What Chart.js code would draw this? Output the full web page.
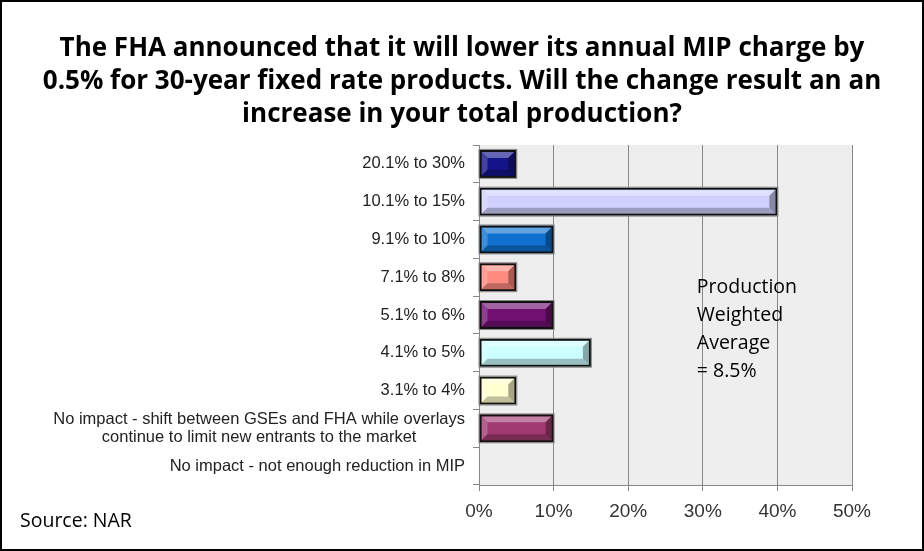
<!DOCTYPE html>
<html>
<head>
<meta charset="utf-8">
<script src="https://cdn.jsdelivr.net/npm/chart.js@4"></script>
<style>
  body { margin: 0; background: #fff; }
  #wrap { width: 924px; height: 551px; position: relative; }
</style>
</head>
<body>
<div id="wrap"><canvas id="chart" width="924" height="551"></canvas></div>
<script>
// DATA
const categories = [
    '20.1% to 30%',
    '10.1% to 15%',
    '9.1% to 10%',
    '7.1% to 8%',
    '5.1% to 6%',
    '4.1% to 5%',
    '3.1% to 4%',
    ['No impact - shift between GSEs and FHA while overlays', 'continue to limit new entrants to the market'],
    'No impact - not enough reduction in MIP'
];
const shares = [5, 40, 10, 5, 10, 15, 5, 10, 0];
const barColors = ['#141488', '#d0d0ff', '#1070d0', '#ff8a80', '#701070', '#ccffff', '#ffffd0', '#a03a70', '#999999'];
const xTicks = [0, 10, 20, 30, 40, 50];
const titleLines = [
    'The FHA announced that it will lower its annual MIP charge by',
    '0.5% for 30-year fixed rate products. Will the change result an an',
    'increase in your total production?'
];
const noteLines = ['Production', 'Weighted', 'Average', '= 8.5%'];
const sourceText = 'Source: NAR';

// HELPERS
function shade(hex, amt) {
    const n = parseInt(hex.slice(1), 16);
    let r = n >> 16, g = (n >> 8) & 255, b = n & 255;
    if (amt > 0) {
        r += (255 - r) * amt; g += (255 - g) * amt; b += (255 - b) * amt;
    } else {
        r *= 1 + amt; g *= 1 + amt; b *= 1 + amt;
    }
    return `rgb(${Math.round(r)},${Math.round(g)},${Math.round(b)})`;
}

// BACKGROUND + FRAME + TITLE
const backdrop = {
    id: 'backdrop',
    beforeDraw(chart) {
        const { ctx, chartArea: a } = chart;
        ctx.save();
        ctx.fillStyle = '#fff';
        ctx.fillRect(0, 0, chart.width, chart.height);
        ctx.fillStyle = '#eeeeee';
        ctx.fillRect(a.left, a.top, a.right - a.left, a.bottom - a.top);
        ctx.restore();
    },
    afterDraw(chart) {
        const ctx = chart.ctx;
        ctx.save();
        ctx.fillStyle = '#000';
        ctx.font = 'bold 26px "Open Sans", sans-serif';
        ctx.textAlign = 'center';
        ctx.textBaseline = 'middle';
        titleLines.forEach((line, j) => ctx.fillText(line, 462, 49 + j * 33));
        ctx.strokeStyle = '#000';
        ctx.lineWidth = 2;
        ctx.strokeRect(1, 1, chart.width - 2, chart.height - 2);
        ctx.restore();
    }
};

// BEVELED BARS
const bevel = {
    id: 'bevel',
    afterDatasetsDraw(chart) {
        const ctx = chart.ctx;
        const meta = chart.getDatasetMeta(0);
        meta.data.forEach((bar, i) => {
            const x0 = bar.base, x1 = bar.x;
            if (x1 - x0 < 2) return;
            const y0 = bar.y - bar.height / 2, y1 = bar.y + bar.height / 2;
            const c = barColors[i];
            const d = 6;
            ctx.save();
            const face = (pts, col) => {
                ctx.beginPath();
                ctx.moveTo(pts[0][0], pts[0][1]);
                pts.slice(1).forEach(p => ctx.lineTo(p[0], p[1]));
                ctx.closePath();
                ctx.fillStyle = col;
                ctx.fill();
            };
            const ix0 = x0 + 2, ix1 = x1 - 2, iy0 = y0 + 2, iy1 = y1 - 2;
            face([[ix0, iy0], [ix1, iy0], [ix1 - d, iy0 + d], [ix0 + d, iy0 + d]], shade(c, 0.35));
            face([[ix0, iy0], [ix0 + d, iy0 + d], [ix0 + d, iy1 - d], [ix0, iy1]], shade(c, 0.2));
            face([[ix0, iy1], [ix0 + d, iy1 - d], [ix1 - d, iy1 - d], [ix1, iy1]], shade(c, -0.25));
            face([[ix1, iy0], [ix1, iy1], [ix1 - d, iy1 - d], [ix1 - d, iy0 + d]], shade(c, -0.35));
            ctx.strokeStyle = '#111';
            ctx.lineWidth = 2;
            ctx.strokeRect(x0 + 1, y0 + 1, x1 - x0 - 2, y1 - y0 - 2);
            ctx.strokeStyle = '#888';
            ctx.lineWidth = 1;
            ctx.strokeRect(x0 - 0.5, y0 - 0.5, x1 - x0 + 1, y1 - y0 + 1);
            ctx.restore();
        });
    }
};

// CATEGORY LABELS, NOTE, SOURCE
const texts = {
    id: 'texts',
    afterDraw(chart) {
        const ctx = chart.ctx;
        const yScale = chart.scales.y;
        const xScale = chart.scales.x;
        ctx.save();
        ctx.fillStyle = '#222';
        ctx.font = '16.5px "Liberation Sans", Arial, sans-serif';
        ctx.textBaseline = 'middle';
        const right = yScale.right - 14;
        categories.forEach((label, i) => {
            const yc = yScale.getPixelForValue(i);
            const lines = Array.isArray(label) ? label : [label];
            const widest = Math.max(...lines.map(l => ctx.measureText(l).width));
            const center = right - widest / 2;
            const lh = 18;
            lines.forEach((line, j) => {
                const y = yc + (j - (lines.length - 1) / 2) * lh;
                ctx.textAlign = 'center';
                ctx.fillText(line, center, y);
            });
        });

        ctx.fillStyle = '#000';
        ctx.font = '19.5px "Open Sans", sans-serif';
        ctx.textAlign = 'left';
        const nx = xScale.getPixelForValue(29.2);
        noteLines.forEach((line, j) => {
            ctx.fillText(line, nx, 287 + j * 28);
        });
        ctx.fillText(sourceText, 20, 521);
        ctx.restore();
    }
};

new Chart(document.getElementById('chart'), {
    type: 'bar',
    data: {
        labels: categories,
        datasets: [{
            data: shares,
            backgroundColor: barColors,
            borderWidth: 0,
            categoryPercentage: 1,
            barPercentage: 0.74
        }]
    },
    options: {
        indexAxis: 'y',
        responsive: false,
        animation: false,
        layout: { padding: { left: 0, right: 72, top: 145, bottom: 0 } },
        plugins: {
            legend: { display: false },
            tooltip: { enabled: false },
            title: { display: false }
        },
        scales: {
            x: {
                min: 0,
                max: 50,
                afterBuildTicks(scale) {
                    scale.ticks = xTicks.map(v => ({ value: v }));
                },
                afterFit(scale) { scale.height = 66; },
                grid: { color: '#888', lineWidth: 1, tickLength: 6, tickColor: '#888' },
                border: { color: '#888', width: 1 },
                ticks: {
                    color: '#333',
                    padding: 9,
                    font: { family: '"Liberation Sans", Arial, sans-serif', size: 19 },
                    callback: v => v + '%'
                }
            },
            y: {
                offset: true,
                afterFit(scale) { scale.width = 479; },
                grid: { drawOnChartArea: false, offset: true, tickLength: 6, tickColor: '#888' },
                border: { color: '#888', width: 1 },
                ticks: { display: false }
            }
        }
    },
    plugins: [backdrop, bevel, texts]
});
</script>
</body>
</html>
